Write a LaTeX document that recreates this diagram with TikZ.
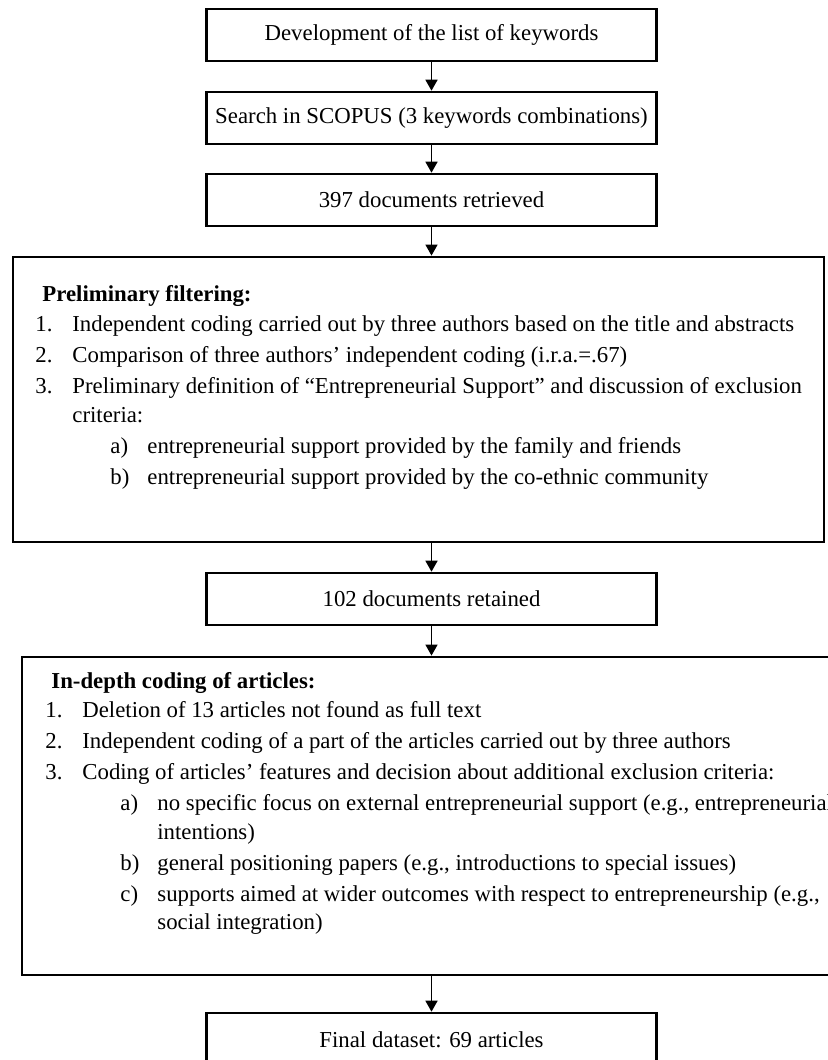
\documentclass[tikz,border=0pt]{standalone}
\usepackage{fontspec}
\setmainfont{Liberation Serif}
\usetikzlibrary{arrows.meta}
\newcommand\myfs{\fontsize{11.4pt}{15pt}\selectfont}
\begin{document}
\begin{tikzpicture}[x=0.5pt,y=-0.5pt,
  box/.style={draw, line width=1.3pt, minimum width=225pt, minimum height=26pt, inner sep=0pt, font=\myfs},
  bigbox/.style={draw, line width=1.4pt, inner sep=0pt},
  txt/.style={anchor=west, inner sep=0pt, font=\myfs},
  arr/.style={line width=0.75pt, -{Triangle[width=6pt,length=5.5pt]}}]
\path[use as bounding box] (0,0) rectangle (828,1060);
\clip (0,0) rectangle (828,1060);
\fill[white] (0,0) rectangle (828,1060);

% small boxes
\node[box] (b1) at (431.5,35) {Development of the list of keywords};
\node[box] (b2) at (431.5,118) {Search in SCOPUS (3 keywords combinations)};
\node[box] (b3) at (431.5,200) {397 documents retrieved};
\node[box] (b4) at (431.5,599) {102 documents retained};
\node[box, minimum height=26.5pt] (b5) at (431.5,1039.5) {Final dataset: 69 articles};

% big boxes
\node[bigbox, minimum width=405.5pt, minimum height=142.5pt] (big1) at (418.5,399.5) {};
\node[bigbox, minimum width=411pt, minimum height=159pt] (big2) at (433,816) {};

% arrows
\draw[arr] (b1.south) -- (b2.north);
\draw[arr] (b2.south) -- (b3.north);
\draw[arr] (b3.south) -- (b3.south |- big1.north);
\draw[arr] (b4.north |- big1.south) -- (b4.north);
\draw[arr] (b4.south) -- (b4.south |- big2.north);
\draw[arr] (b5.north |- big2.south) -- (b5.north);

% text of first big box
\node[txt] (p0) at (42,295) {\strut\textbf{Preliminary filtering:}};
\node[txt] (p1n) at (35,325) {\strut 1.};
\node[txt] (p1) at (72,325) {\strut Independent coding carried out by three authors based on the title and abstracts};
\node[txt] (p2n) at (35,356) {\strut 2.};
\node[txt] (p2) at (72,356) {\strut Comparison of three authors’ independent coding (i.r.a.=.67)};
\node[txt] (p3n) at (35,387) {\strut 3.};
\node[txt] (p3) at (72,387) {\strut Preliminary definition of “Entrepreneurial Support” and discussion of exclusion};
\node[txt] (p3b) at (72,416) {\strut criteria:};
\node[txt] (pan) at (110,447) {\strut a)};
\node[txt] (pa) at (147,447) {\strut entrepreneurial support provided by the family and friends};
\node[txt] (pbn) at (110,478) {\strut b)};
\node[txt] (pb) at (147,478) {\strut entrepreneurial support provided by the co-ethnic community};

% text of second big box
\node[txt] (q0) at (51,682) {\strut\textbf{In-depth coding of articles:}};
\node[txt] (q1n) at (45,711) {\strut 1.};
\node[txt] (q1) at (82,711) {\strut Deletion of 13 articles not found as full text};
\node[txt] (q2n) at (45,742) {\strut 2.};
\node[txt] (q2) at (82,742) {\strut Independent coding of a part of the articles carried out by three authors};
\node[txt] (q3n) at (45,773) {\strut 3.};
\node[txt] (q3) at (82,773) {\strut Coding of articles’ features and decision about additional exclusion criteria:};
\node[txt] (qan) at (120,804) {\strut a)};
\node[txt] (qa) at (157,804) {\strut no specific focus on external entrepreneurial support (e.g., entrepreneurial};
\node[txt] (qa2) at (157,833) {\strut intentions)};
\node[txt] (qbn) at (120,864) {\strut b)};
\node[txt] (qb) at (157,864) {\strut general positioning papers (e.g., introductions to special issues)};
\node[txt] (qcn) at (120,895) {\strut c)};
\node[txt] (qc) at (157,895) {\strut supports aimed at wider outcomes with respect to entrepreneurship (e.g.,};
\node[txt] (qc2) at (157,923) {\strut social integration)};
\end{tikzpicture}
\end{document}
